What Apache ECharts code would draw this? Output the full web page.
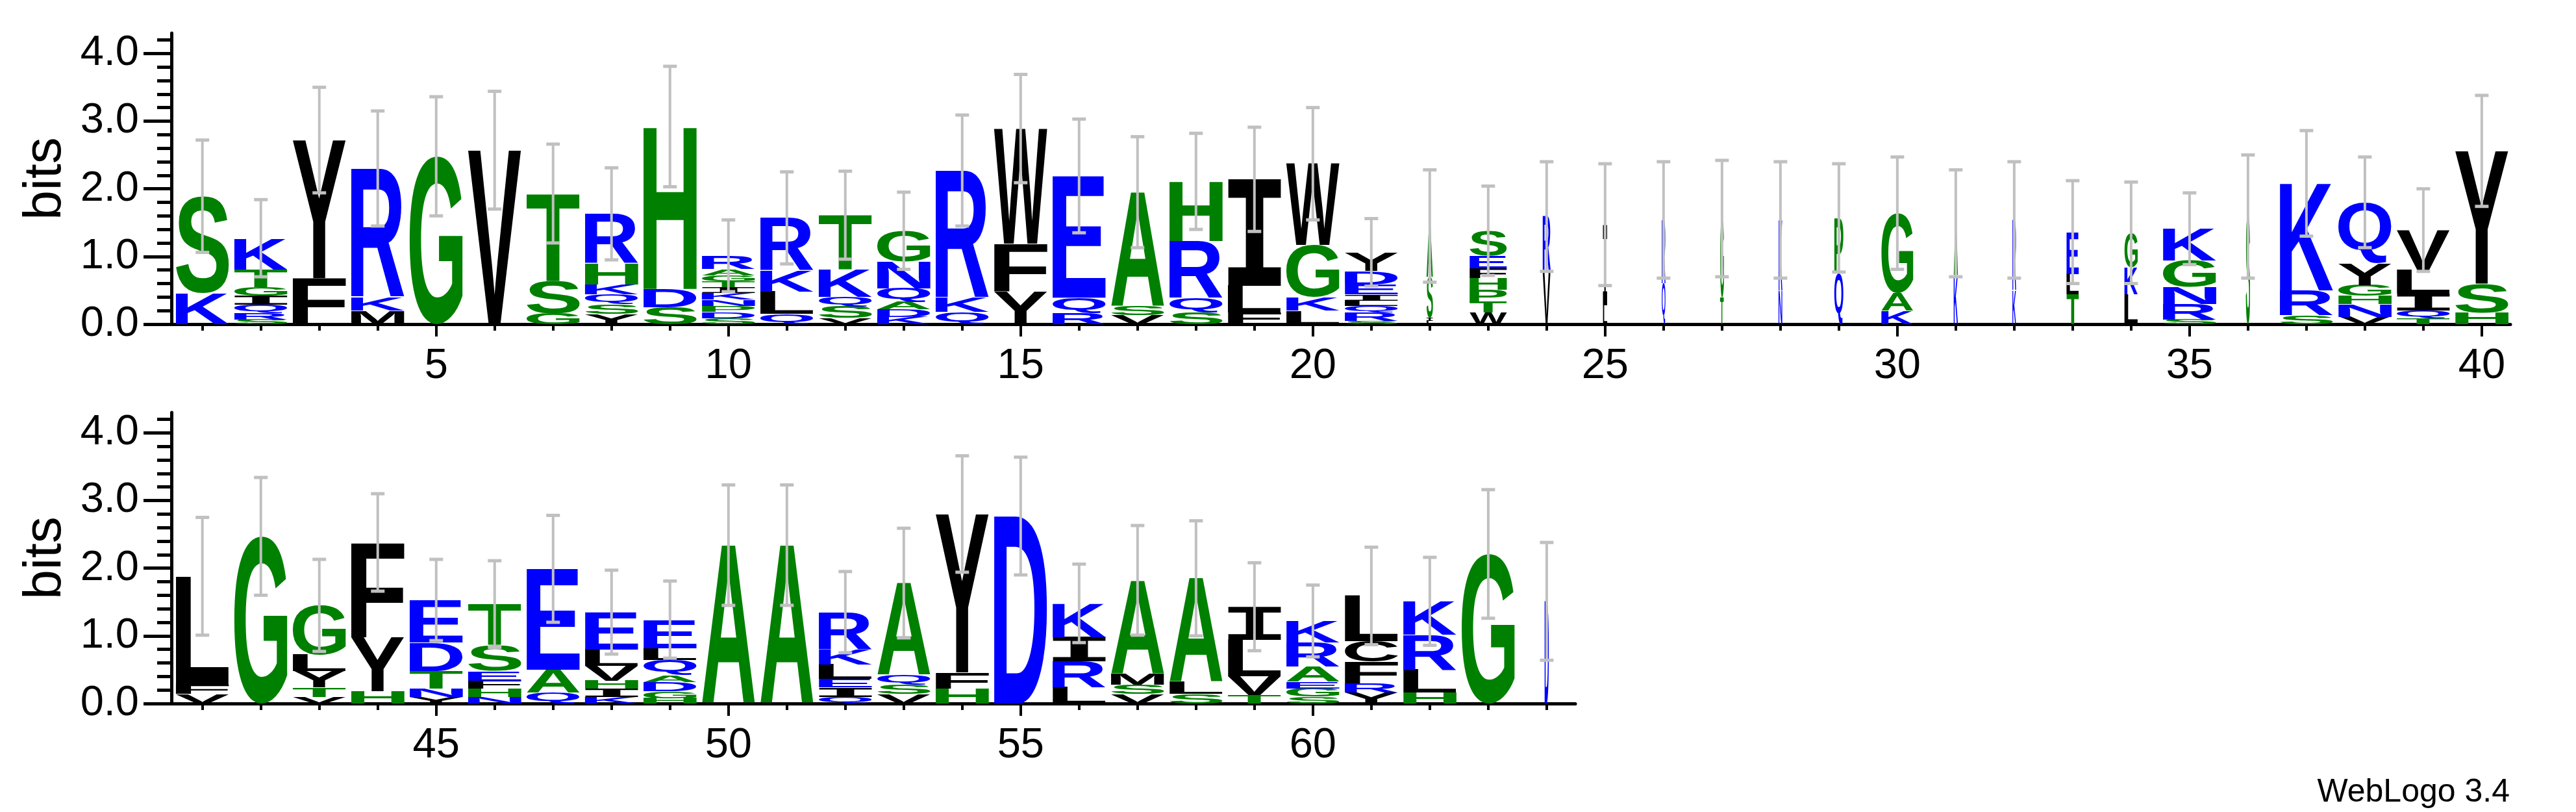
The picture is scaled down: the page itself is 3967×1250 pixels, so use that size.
<!DOCTYPE html>
<html><head><meta charset="utf-8">
<script src="https://cdn.jsdelivr.net/npm/echarts@6/dist/echarts.min.js"></script>
<style>html,body{margin:0;background:#fff}#c{width:3967px;height:1250px}</style>
</head><body><div id="c"></div>
<script>
// ---------- data ----------
const positions = Array.from({length: 64}, (_, k) => k + 1);
// letters stacked bottom -> top, [residue, bits]
const stacks = [
  [['K',.46],['S',1.43]],
  [['S',.07],['R',.10],['Q',.12],['I',.13],['G',.13],['T',.26],['K',.46]],
  [['F',.68],['Y',2.04]],
  [['M',.20],['K',.20],['R',1.90]],
  [['G',2.48]],
  [['V',2.57]],
  [['G',.16],['S',.48],['T',1.29]],
  [['Y',.15],['S',.14],['Q',.15],['K',.15],['H',.31],['R',.73]],
  [['S',.25],['D',.27],['H',2.40]],
  [['S',.09],['D',.09],['P',.09],['N',.09],['K',.10],['I',.09],['T',.08],['G',.09],['A',.09],['R',.20]],
  [['Q',.15],['L',.33],['K',.31],['R',.78]],
  [['V',.09],['S',.17],['Q',.14],['K',.41],['T',.80]],
  [['K',.11],['D',.11],['A',.11],['Q',.20],['N',.39],['G',.46]],
  [['Q',.18],['K',.21],['R',1.88]],
  [['Y',.48],['F',.71],['W',1.70]],
  [['R',.16],['Q',.23],['E',1.80]],
  [['V',.13],['S',.14],['A',1.68]],
  [['S',.18],['Q',.21],['R',.84],['H',.88]],
  [['F',.17],['L',.40],['I',1.57]],
  [['L',.20],['K',.20],['G',.77],['W',1.20]],
  [['S',.05],['R',.12],['Q',.10],['L',.08],['I',.09],['E',.15],['D',.20],['Y',.27]],
  [['L',.05],['I',.05],['S',.60],['A',.75]],
  [['W',.17],['T',.16],['P',.18],['H',.17],['F',.15],['E',.18],['S',.37]],
  [['V',.79],['R',.80]],
  [['L',.28],['I',1.19]],
  [['Q',.60],['R',.94]],
  [['T',.40],['G',1.16]],
  [['N',.50],['K',1.04]],
  [['Q',.75],['P',.82]],
  [['K',.20],['A',.26],['G',1.18]],
  [['K',.72],['A',.77]],
  [['K',.50],['R',1.04]],
  [['T',.44],['L',.30],['E',.62]],
  [['L',.44],['K',.40],['G',.51]],
  [['S',.07],['R',.23],['N',.25],['G',.39],['K',.47]],
  [['S',1.59]],
  [['S',.13],['R',.37],['K',1.58]],
  [['V',.11],['N',.19],['H',.12],['G',.16],['Y',.32],['Q',.90]],
  [['T',.09],['Q',.11],['I',.25],['L',.35],['V',.59]],
  [['H',.17],['S',.43],['Y',1.96]],
  [['V',.14],['F',.14],['L',1.60]],
  [['G',2.47]],
  [['V',.10],['T',.14],['Y',.24],['L',.24],['G',.73]],
  [['H',.18],['Y',.80],['F',1.40]],
  [['Y',.10],['N',.12],['T',.26],['D',.42],['E',.63]],
  [['N',.10],['H',.12],['F',.12],['E',.14],['S',.38],['T',.61]],
  [['Q',.16],['A',.34],['E',1.49]],
  [['K',.10],['I',.12],['H',.12],['V',.22],['L',.24],['E',.55]],
  [['H',.08],['G',.10],['D',.14],['A',.10],['Q',.22],['L',.18],['E',.42]],
  [['A',2.34]],
  [['A',2.34]],
  [['Q',.10],['I',.14],['E',.12],['L',.22],['K',.22],['R',.55]],
  [['V',.14],['S',.14],['Q',.14],['A',1.36]],
  [['H',.22],['F',.24],['Y',2.34]],
  [['D',2.77]],
  [['L',.24],['R',.38],['I',.36],['K',.50]],
  [['V',.14],['S',.14],['M',.16],['A',1.38]],
  [['S',.14],['L',.18],['A',1.53]],
  [['T',.12],['V',.28],['L',.54],['I',.49]],
  [['S',.10],['G',.12],['E',.10],['A',.22],['R',.36],['K',.32]],
  [['Y',.16],['R',.14],['F',.32],['C',.30],['L',.67]],
  [['H',.16],['L',.34],['R',.52],['K',.49]],
  [['G',2.21]],
  [['D',1.51]]
];
// upper end of each error bar, bits
const errorTops = [2.72,1.84,3.50,3.15,3.36,3.44,2.66,2.31,3.81,1.54,
  2.25,2.26,1.95,3.09,3.69,3.03,2.77,2.82,2.91,3.20,
  1.56,2.28,2.04,2.40,2.37,2.40,2.42,2.40,2.37,2.47,
  2.28,2.40,2.12,2.10,1.94,2.50,2.86,2.47,2.00,3.38,
  2.75,3.34,2.13,3.10,2.13,2.11,2.78,1.97,1.81,3.23,
  3.23,1.95,2.59,3.66,3.64,2.06,2.63,2.70,2.08,1.75,
  2.31,2.16,3.16,2.38];
// fraction of the full column width (occupancy)
const columnWidths = [1,1,1,1,1,1,1,1,1,1, 1,1,1,1,1,1,1,1,1,1,
  1,.12,.70,.15,.08,.07,.07,.07,.17,.60, .08,.07,.23,.25,1,.08,1,1,1,1,
  1,1,1,1,1,1,1,1,1,1, 1,1,1,1,1,1,1,1,1,1, 1,1,1,.08];
const xLabelsTop = [5,10,15,20,25,30,35,40];
const xLabelsBottom = [45,50,55,60];
const yLabels = [0,1,2,3,4];
const yMinor = [0,.2,.4,.6,.8,1,1.2,1.4,1.6,1.8,2,2.2,2.4,2.6,2.8,3,3.2,3.4,3.6,3.8,4,4.2];
const residueColors = {
  G:'#008000',S:'#008000',T:'#008000',H:'#008000',A:'#008000',P:'#008000',
  K:'#0000ff',R:'#0000ff',Q:'#0000ff',D:'#0000ff',E:'#0000ff',N:'#0000ff',
  Y:'#000000',F:'#000000',V:'#000000',W:'#000000',L:'#000000',I:'#000000',M:'#000000',C:'#000000'
};

// ---------- glyph metrics ----------
const GS = 200;
function glyphFont(ch) { return ch === 'I' ? 'DejaVu Sans Mono' : 'Liberation Sans'; }
const mctx = document.createElement('canvas').getContext('2d');
mctx.textAlign = 'center'; mctx.textBaseline = 'middle';
const metricCache = {};
function metric(ch) {
  if (!metricCache[ch]) {
    mctx.font = 'bold ' + GS + 'px "' + glyphFont(ch) + '"';
    const m = mctx.measureText(ch);
    metricCache[ch] = {L: m.actualBoundingBoxLeft, R: m.actualBoundingBoxRight,
      A: m.actualBoundingBoxAscent, D: m.actualBoundingBoxDescent};
  }
  return metricCache[ch];
}

function renderItem(params, api) {
  const pos = api.value(0), i = api.value(2);
  const colW = api.size([1, 0])[0];
  const w = colW * 0.91 * columnWidths[i];
  const cx = api.coord([pos, 0])[0];
  const children = [];
  let cum = 0;
  for (const [ch, h] of stacks[i]) {
    const yb = api.coord([pos, cum])[1], yt = api.coord([pos, cum + h])[1];
    cum += h;
    const hp = yb - yt;
    if (hp < 0.8) continue;
    const m = metric(ch);
    const sx = w / (m.L + m.R), sy = hp / (m.A + m.D);
    children.push({type: 'text', silent: true,
      x: cx - w / 2 + m.L * sx, y: yt + m.A * sy, scaleX: sx, scaleY: sy,
      style: {text: ch, fontSize: GS, fontFamily: glyphFont(ch), fontWeight: 'bold',
        fill: residueColors[ch], align: 'center', verticalAlign: 'middle', lineHeight: GS}});
  }
  const e = errorTops[i] - cum;
  const yT = api.coord([pos, errorTops[i]])[1];
  const yB = api.coord([pos, cum - e])[1];
  const gray = '#c0c0c0';
  children.push({type: 'line', silent: true, shape: {x1: cx, y1: yT, x2: cx, y2: yB},
    style: {stroke: gray, lineWidth: 4}});
  children.push({type: 'rect', silent: true, shape: {x: cx - 10.5, y: yT - 2.5, width: 21, height: 5}, style: {fill: gray}});
  children.push({type: 'rect', silent: true, shape: {x: cx - 10.5, y: yB - 2.5, width: 21, height: 5}, style: {fill: gray}});
  return {type: 'group', children};
}

const TXT = {fontFamily: 'Liberation Sans', fontSize: 65, color: '#000'};
function xAxes(grid, min, max, labels, minorVals) {
  return [
    {type: 'value', gridIndex: grid, min, max, position: 'bottom',
      axisLine: {show: true, lineStyle: {color: '#000', width: 5}},
      axisTick: {show: true, customValues: labels, length: 19, lineStyle: {color: '#000', width: 4}},
      axisLabel: {show: true, customValues: labels, margin: 33, ...TXT, lineHeight: 65},
      splitLine: {show: false}},
    {type: 'value', gridIndex: grid, min, max, position: 'bottom',
      axisLine: {show: false},
      axisTick: {show: true, customValues: minorVals, length: 10, lineStyle: {color: '#000', width: 4}},
      axisLabel: {show: false}, splitLine: {show: false}}
  ];
}
function yAxes(grid) {
  return [
    {type: 'value', gridIndex: grid, min: 0, max: 4.3, position: 'left',
      axisLine: {show: true, lineStyle: {color: '#000', width: 5}},
      axisTick: {show: true, customValues: yLabels, length: 43, lineStyle: {color: '#000', width: 5}},
      axisLabel: {show: true, customValues: yLabels, margin: 50, formatter: v => v.toFixed(1), ...TXT},
      splitLine: {show: false}},
    {type: 'value', gridIndex: grid, min: 0, max: 4.3, position: 'left', offset: 0,
      axisLine: {show: false},
      axisTick: {show: true, customValues: yMinor, length: 22, lineStyle: {color: '#000', width: 5}},
      axisLabel: {show: false}, splitLine: {show: false}}
  ];
}
const topPos = positions.filter(p => p <= 40), botPos = positions.filter(p => p > 40);
const chart = echarts.init(document.getElementById('c'), null, {renderer: 'canvas'});
chart.setOption({
  animation: false,
  backgroundColor: '#fff',
  grid: [
    {left: 264, right: 101, top: 51, height: 448},
    {left: 264, right: 1541, top: 635, height: 448}
  ],
  xAxis: [...xAxes(0, 0.47, 40.49, xLabelsTop, topPos), ...xAxes(1, 40.47, 64.49, xLabelsBottom, botPos)],
  yAxis: [...yAxes(0), ...yAxes(1)],
  graphic: [
    {type: 'text', x: 70, y: 275, rotation: Math.PI / 2, style: {text: 'bits', fontFamily: 'Liberation Sans', fontSize: 82, fill: '#000', align: 'center', verticalAlign: 'middle'}},
    {type: 'text', x: 70, y: 859, rotation: Math.PI / 2, style: {text: 'bits', fontFamily: 'Liberation Sans', fontSize: 82, fill: '#000', align: 'center', verticalAlign: 'middle'}},
    {type: 'text', x: 3865, y: 1220, style: {text: 'WebLogo 3.4', fontFamily: 'Liberation Sans', fontSize: 50, fill: '#000', align: 'right', verticalAlign: 'middle'}}
  ],
  series: [
    {type: 'custom', xAxisIndex: 0, yAxisIndex: 0, renderItem, clip: false,
      data: topPos.map(p => [p, errorTops[p - 1], p - 1])},
    {type: 'custom', xAxisIndex: 2, yAxisIndex: 2, renderItem, clip: false,
      data: botPos.map(p => [p, errorTops[p - 1], p - 1])}
  ]
});
</script></body></html>
